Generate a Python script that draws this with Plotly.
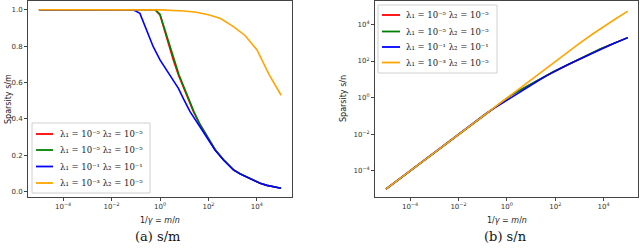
import plotly.graph_objects as go

# ---------------- data ----------------
# x values are 1/gamma = m/n, given as log10 exponents converted below
orange_logx = [-5, -4, -3, -2, -1, 0, 1, 1.5, 2, 2.5, 3, 3.5, 4, 4.5, 5]
orange_sm = [1.0, 1.0, 1.0, 1.0, 1.0, 0.999, 0.993, 0.986, 0.972, 0.952, 0.91, 0.86, 0.78, 0.645, 0.53]
orange_sn = [1e-5, 1e-4, 1e-3, 1e-2, 0.1, 0.999, 9.93, 31.2, 97.2, 301, 910, 2720, 7800, 20400, 53000]

blue_logx = [-5, -3, -1.1, -0.83, -0.55, -0.28, 0, 0.28, 0.55, 0.76, 0.96, 1.24, 1.65, 1.93,
             2.27, 2.62, 3.03, 3.3, 3.58, 3.86, 4.13, 4.41, 5.0]
blue_sm = [1.0, 1.0, 1.0, 0.98, 0.888, 0.797, 0.724, 0.669, 0.614, 0.568, 0.513, 0.44, 0.357, 0.302,
           0.229, 0.174, 0.12, 0.098, 0.08, 0.062, 0.047, 0.035, 0.019]
blue_sn = [1e-5, 1e-3, 0.0794, 0.145, 0.25, 0.418, 0.724, 1.27, 2.18, 3.27, 4.68, 7.65, 15.9, 25.7,
           42.6, 72.5, 128.6, 195.5, 304, 449, 634, 900, 1900]

red_logx = [-5, -3, -1, -0.21, 0, 0.14, 0.34, 0.55, 0.76, 0.96, 1.17, 1.38, 1.65, 1.93,
            2.27, 2.62, 3.03, 3.3, 3.58, 3.86, 4.13, 4.41, 5.0]
red_sm = [1.0, 1.0, 1.0, 1.0, 0.971, 0.907, 0.815, 0.724, 0.641, 0.577, 0.508, 0.44, 0.37, 0.305,
          0.232, 0.176, 0.121, 0.099, 0.081, 0.063, 0.047, 0.035, 0.019]
red_sn = [1e-5, 1e-3, 0.1, 0.617, 0.971, 1.25, 1.78, 2.57, 3.69, 5.26, 7.52, 10.5, 16.5, 26.0,
          43.2, 73.4, 129.7, 197.5, 308, 456, 634, 900, 1900]

green_logx = [-5, -3, -1, -0.2, 0, 0.15, 0.35, 0.56, 0.78, 0.98, 1.19, 1.4, 1.66, 1.94,
              2.28, 2.63, 3.04, 3.31, 3.59, 3.88, 4.14, 4.42, 5.0]
green_sm = [1.0, 1.0, 1.0, 1.0, 0.975, 0.912, 0.82, 0.728, 0.644, 0.578, 0.508, 0.44, 0.368, 0.304,
            0.231, 0.175, 0.12, 0.099, 0.081, 0.062, 0.047, 0.035, 0.019]
green_sn = [1e-5, 1e-3, 0.1, 0.631, 0.975, 1.29, 1.84, 2.64, 3.90, 5.53, 7.88, 11.0, 16.8, 26.5,
            43.9, 74.6, 131.4, 201.3, 314, 471, 648, 921, 1900]

labels = [
    "λ₁ = 10⁻⁵ λ₂ = 10⁻⁵",
    "λ₁ = 10⁻⁵ λ₂ = 10⁻⁵",
    "λ₁ = 10⁻¹ λ₂ = 10⁻¹",
    "λ₁ = 10⁻³ λ₂ = 10⁻⁵",
]
colors = ["red", "green", "blue", "orange"]

x_tickvals = [1e-4, 1e-2, 1, 1e2, 1e4]
x_ticktext = ["10<sup>−4</sup>", "10<sup>−2</sup>", "10<sup>0</sup>", "10<sup>2</sup>", "10<sup>4</sup>"]
yl_tickvals = [0.0, 0.2, 0.4, 0.6, 0.8, 1.0]
yl_ticktext = ["0.0", "0.2", "0.4", "0.6", "0.8", "1.0"]
yr_tickvals = [1e-4, 1e-2, 1, 1e2, 1e4]
yr_ticktext = ["10<sup>−4</sup>", "10<sup>−2</sup>", "10<sup>0</sup>", "10<sup>2</sup>", "10<sup>4</sup>"]

series = [
    (red_logx, red_sm, red_sn),
    (green_logx, green_sm, green_sn),
    (blue_logx, blue_sm, blue_sn),
    (orange_logx, orange_sm, orange_sn),
]

W, H = 640, 250
fig = go.Figure()

for (lx, sm, sn), col, lab in zip(series, colors, labels):
    xv = [10 ** v for v in lx]
    fig.add_trace(go.Scatter(x=xv, y=sm, mode="lines", line=dict(color=col, width=1.6),
                             name=lab, xaxis="x", yaxis="y", showlegend=False))
    fig.add_trace(go.Scatter(x=xv, y=sn, mode="lines", line=dict(color=col, width=1.6),
                             name=lab, xaxis="x2", yaxis="y2", showlegend=False))

font_tick = dict(family="DejaVu Sans", size=7, color="#333333")
axis_common = dict(showgrid=False, zeroline=False, showline=True, linecolor="#444444",
                   linewidth=1, mirror=True, ticks="outside", ticklen=3, tickcolor="#444444",
                   tickfont=font_tick)

def px_x(p):
    return p / W

def px_y(p):
    return 1 - p / H

fig.update_layout(
    width=W, height=H,
    margin=dict(l=0, r=0, t=0, b=0),
    paper_bgcolor="white", plot_bgcolor="white",
    showlegend=False,
    xaxis=dict(type="log", domain=[px_x(28), px_x(292)], range=[-5.45, 5.45],
               tickvals=x_tickvals, ticktext=x_ticktext, anchor="y", **axis_common),
    yaxis=dict(domain=[px_y(197), px_y(1)], range=[-0.029, 1.048],
               tickvals=yl_tickvals, ticktext=yl_ticktext, anchor="x", **axis_common),
    xaxis2=dict(type="log", domain=[px_x(375), px_x(638)], range=[-5.45, 5.42],
                tickvals=x_tickvals, ticktext=x_ticktext, anchor="y2", **axis_common),
    yaxis2=dict(type="log", domain=[px_y(197), px_y(1)], range=[-5.43, 5.28],
                tickvals=yr_tickvals, ticktext=yr_ticktext, anchor="x2", **axis_common),
)

ann_font = dict(family="DejaVu Sans", size=8, color="#222222")
cap_font = dict(family="DejaVu Serif", size=13, color="#111111")
leg_font = dict(family="DejaVu Serif", size=8.5, color="#222222")

def ann(text, x, y, font, angle=0, xanchor="center"):
    return dict(text=text, x=px_x(x), y=px_y(y), xref="paper", yref="paper",
                xanchor=xanchor, yanchor="middle", textangle=angle,
                showarrow=False, font=font)

annotations = [
    ann("Sparsity s/m", 8, 99, ann_font, -90),
    ann("Sparsity s/n", 343, 99, ann_font, -90),
    ann("1/<i>γ</i> = <i>m</i>/<i>n</i>", 160, 220, ann_font),
    ann("1/<i>γ</i> = <i>m</i>/<i>n</i>", 507, 220, ann_font),
    ann("(a) s/m", 157, 236, cap_font),
    ann("(b) s/n", 505, 236, cap_font),
]

shapes = []

# hand-drawn legend boxes (matplotlib style): box edges, sample line x-range, text x, row ys
legend_specs = [
    dict(box=(32, 123, 150, 193), line_x=(36, 53), text_x=58, rows=[134, 150, 166.5, 183]),
    dict(box=(378, 5, 497, 73), line_x=(382, 400), text_x=404, rows=[15, 31.5, 47, 62.5]),
]
for spec in legend_specs:
    x0, y0, x1, y1 = spec["box"]
    shapes.append(dict(type="rect", xref="paper", yref="paper", layer="above",
                       x0=px_x(x0), x1=px_x(x1), y0=px_y(y1), y1=px_y(y0),
                       line=dict(color="#d0d0d0", width=1), fillcolor="rgba(255,255,255,0.85)"))
    for col, lab, ry in zip(colors, labels, spec["rows"]):
        lx0, lx1 = spec["line_x"]
        shapes.append(dict(type="line", xref="paper", yref="paper", layer="above",
                           x0=px_x(lx0), x1=px_x(lx1), y0=px_y(ry), y1=px_y(ry),
                           line=dict(color=col, width=1.8)))
        annotations.append(ann(lab, spec["text_x"], ry, leg_font, xanchor="left"))

fig.update_layout(annotations=annotations, shapes=shapes)

fig.write_html("out.html",
               config={"displayModeBar": False},
               post_script="document.body.style.margin='0';document.body.style.overflow='hidden';")
